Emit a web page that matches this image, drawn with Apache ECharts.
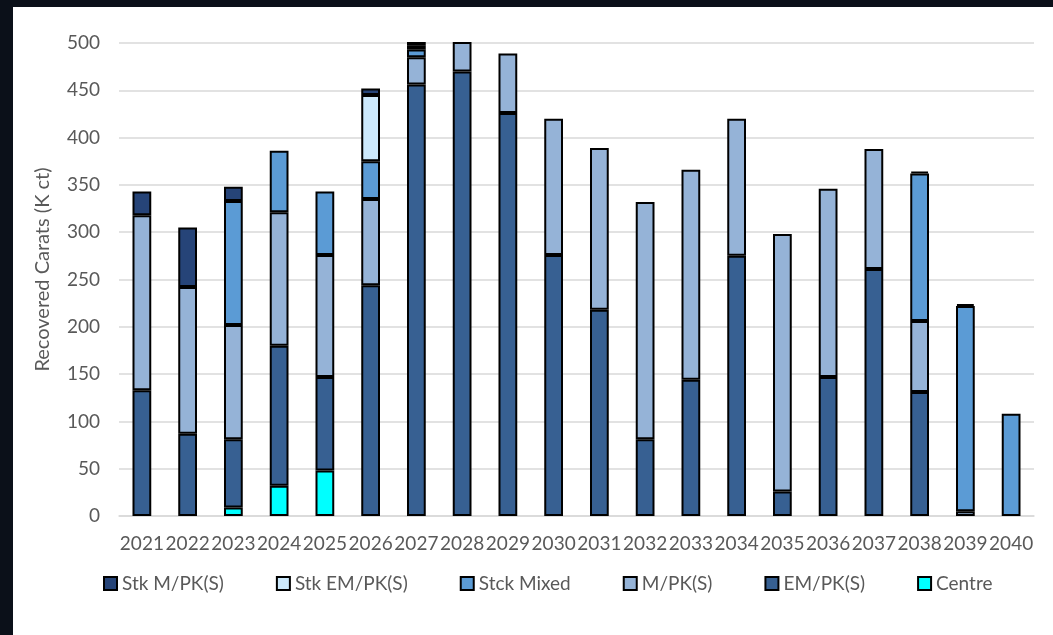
<!DOCTYPE html>
<html>
<head>
<meta charset="utf-8">
<script src="https://cdn.jsdelivr.net/npm/echarts@6/dist/echarts.min.js"></script>
<style>
  html, body { margin: 0; padding: 0; width: 1053px; height: 635px; overflow: hidden; background: #0b1019; }
  #panel { position: absolute; left: 13px; top: 7px; right: 0; bottom: 0; background: #ffffff; }
  #chart { position: absolute; left: 0; top: 0; width: 1053px; height: 635px; }
</style>
</head>
<body>
<div id="panel"></div>
<div id="chart"></div>
<script>
const years = ['2021','2022','2023','2024','2025','2026','2027','2028','2029','2030','2031','2032','2033','2034','2035','2036','2037','2038','2039','2040'];
const centre    = [ '-', '-',   9,  32,  48, '-', '-', '-', '-', '-', '-', '-', '-', '-', '-', '-', '-', '-', '-', '-'];
const emPk      = [133,  87,  72, 148,  99, 244, 456, 470, 426, 276, 218,  81, 144, 275,  26, 147, 261, 131, '-', '-'];
const mPk       = [185, 155, 121, 141, 129,  91,  29,  40,  63, 144, 171, 251, 222, 145, 272, 199, 127,  75,   5, '-'];
const stckMixed = [ '-', '-', 131,  65,  67,  40,   8, '-', '-', '-', '-', '-', '-', '-', '-', '-', '-', 156, 217, 108];
const stkEmPk   = [ '-', '-', '-', '-', '-',  70,   4, '-', '-', '-', '-', '-', '-', '-', '-', '-', '-', '-', '-', '-'];
const stkMPk    = [ 25,  63,  15, '-', '-',   7,   5, '-', '-', '-', '-', '-', '-', '-', '-', '-', '-',   2,   2, '-'];
const yTicks = { min: 0, max: 500, interval: 50 };
const legendOrder = ['Stk M/PK(S)', 'Stk EM/PK(S)', 'Stck Mixed', 'M/PK(S)', 'EM/PK(S)', 'Centre'];

const FONT = 'Lato, "Open Sans", sans-serif';
const TXT = '#595959';

function bar(name, data, color) {
  return {
    name: name, type: 'bar', stack: 'total', data: data, barWidth: '41%',
    itemStyle: { color: color, borderColor: '#000000', borderWidth: 2 },
    emphasis: { disabled: true }
  };
}

const chart = echarts.init(document.getElementById('chart'), null, { renderer: 'canvas' });
chart.setOption({
  backgroundColor: 'transparent',
  animation: false,
  textStyle: { fontFamily: FONT },
  grid: { left: 119, right: 19, top: 43, bottom: 119, containLabel: false },
  legend: {
    data: legendOrder,
    left: 103, top: 574, padding: 0,
    itemWidth: 13, itemHeight: 13, itemGap: 52,
    icon: 'rect',
    textStyle: { color: TXT, fontSize: 19, fontFamily: FONT }
  },
  xAxis: {
    type: 'category', data: years,
    axisLine: { lineStyle: { color: '#d9d9d9', width: 1.5 } },
    axisTick: { show: false },
    axisLabel: { color: TXT, fontSize: 19, fontFamily: FONT, interval: 0, margin: 18 }
  },
  yAxis: {
    type: 'value', min: yTicks.min, max: yTicks.max, interval: yTicks.interval,
    name: 'Recovered Carats (K ct)', nameLocation: 'middle', nameGap: 66,
    nameTextStyle: { color: TXT, fontSize: 20, fontFamily: FONT, padding: [0, 0, 0, 20] },
    axisLine: { show: false }, axisTick: { show: false },
    axisLabel: { color: TXT, fontSize: 19, fontFamily: FONT, margin: 19 },
    splitLine: { lineStyle: { color: '#d9d9d9', width: 1.5 } }
  },
  series: [
    bar('Centre', centre, '#00ffff'),
    bar('EM/PK(S)', emPk, '#376092'),
    bar('M/PK(S)', mPk, '#95b3d7'),
    bar('Stck Mixed', stckMixed, '#5b9bd5'),
    bar('Stk EM/PK(S)', stkEmPk, '#cce9fc'),
    bar('Stk M/PK(S)', stkMPk, '#264478')
  ]
});
</script>
</body>
</html>
